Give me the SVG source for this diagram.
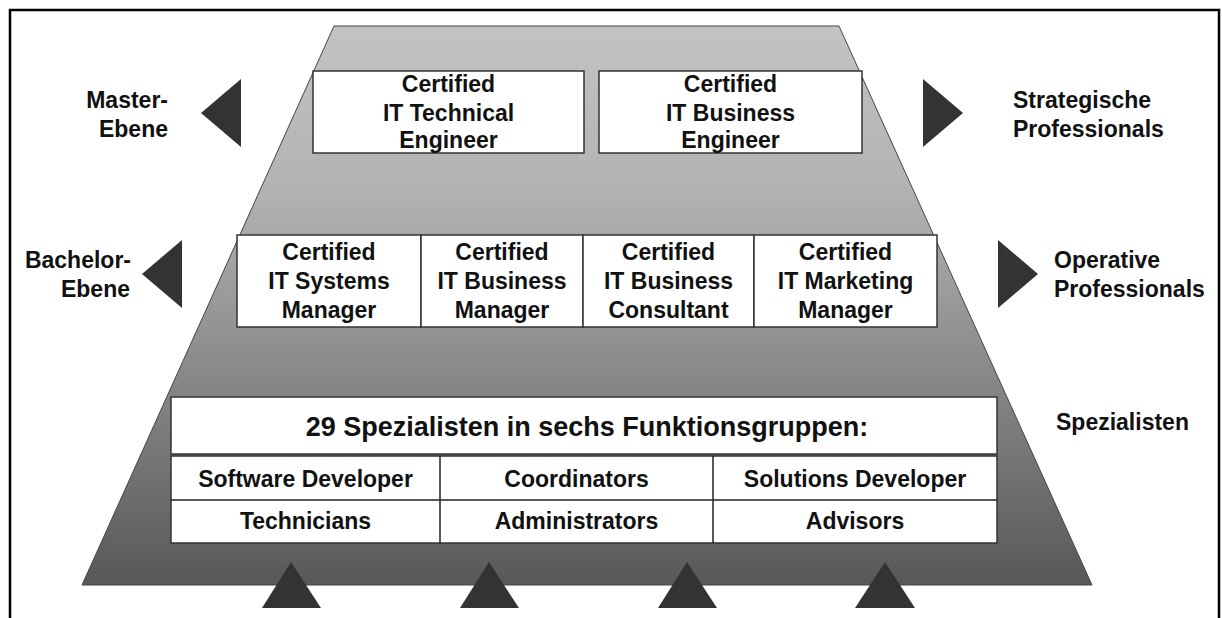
<svg xmlns="http://www.w3.org/2000/svg" width="1222" height="618" viewBox="0 0 1222 618">
  <defs>
    <linearGradient id="pyr" x1="0" y1="0" x2="0" y2="1">
      <stop offset="0" stop-color="#c3c3c3"/>
      <stop offset="0.3" stop-color="#b2b2b2"/>
      <stop offset="1" stop-color="#585858"/>
    </linearGradient>
    <style>
      .box { fill: #ffffff; stroke: #333333; stroke-width: 1.5; }
      .t { font-family: "Liberation Sans", Arial, sans-serif; font-weight: bold; font-size: 23px; fill: #111111; }
      .c { text-anchor: middle; }
      .r { text-anchor: end; }
      .title { font-size: 27px; }
      .tri { fill: #333333; }
      .sep { stroke: #222222; stroke-width: 1.5; }
    </style>
  </defs>
  <rect width="1222" height="618" fill="#ffffff"/>
  <rect x="10" y="10" width="1209" height="640" fill="none" stroke="#000000" stroke-width="2.5"/>

  <g id="pyramid">
    <polygon points="334,26 839,26 1092,585 82,585" fill="url(#pyr)" stroke="#444444" stroke-width="1"/>
  </g>

  <g id="master-label">
    <text class="t r" x="168" y="108">Master-</text>
    <text class="t r" x="168" y="137">Ebene</text>
  </g>
  <g id="strategic-label">
    <text class="t" x="1013" y="108">Strategische</text>
    <text class="t" x="1013" y="137">Professionals</text>
  </g>
  <g id="bachelor-label">
    <text class="t r" x="131" y="268">Bachelor-</text>
    <text class="t r" x="130" y="297">Ebene</text>
  </g>
  <g id="operative-label">
    <text class="t" x="1054" y="268">Operative</text>
    <text class="t" x="1054" y="297">Professionals</text>
  </g>
  <g id="specialists-label">
    <text class="t" x="1056" y="430">Spezialisten</text>
  </g>

  <g id="it-technical-engineer">
    <rect class="box" x="313" y="71" width="271" height="82"/>
    <text class="t c" x="448.5" y="92">Certified</text>
    <text class="t c" x="448.5" y="121">IT Technical</text>
    <text class="t c" x="448.5" y="148">Engineer</text>
  </g>
  <g id="it-business-engineer">
    <rect class="box" x="599" y="71" width="263" height="82"/>
    <text class="t c" x="730.5" y="92">Certified</text>
    <text class="t c" x="730.5" y="121">IT Business</text>
    <text class="t c" x="730.5" y="148">Engineer</text>
  </g>

  <g id="it-systems-manager">
    <rect class="box" x="237" y="235" width="184" height="92"/>
    <text class="t c" x="329" y="260">Certified</text>
    <text class="t c" x="329" y="289">IT Systems</text>
    <text class="t c" x="329" y="318">Manager</text>
  </g>
  <g id="it-business-manager">
    <rect class="box" x="421" y="235" width="162" height="92"/>
    <text class="t c" x="502" y="260">Certified</text>
    <text class="t c" x="502" y="289">IT Business</text>
    <text class="t c" x="502" y="318">Manager</text>
  </g>
  <g id="it-business-consultant">
    <rect class="box" x="583" y="235" width="171" height="92"/>
    <text class="t c" x="668.5" y="260">Certified</text>
    <text class="t c" x="668.5" y="289">IT Business</text>
    <text class="t c" x="668.5" y="318">Consultant</text>
  </g>
  <g id="it-marketing-manager">
    <rect class="box" x="754" y="235" width="183" height="92"/>
    <text class="t c" x="845.5" y="260">Certified</text>
    <text class="t c" x="845.5" y="289">IT Marketing</text>
    <text class="t c" x="845.5" y="318">Manager</text>
  </g>

  <g id="specialists-header">
    <rect class="box" x="171" y="397" width="826" height="57"/>
    <text class="t c title" x="587" y="436">29 Spezialisten in sechs Funktionsgruppen:</text>
  </g>
  <g id="specialists-table">
    <rect class="box" x="171" y="456" width="826" height="87"/>
    <line class="sep" x1="171" y1="500" x2="997" y2="500"/>
    <line class="sep" x1="440" y1="456" x2="440" y2="543"/>
    <line class="sep" x1="713" y1="456" x2="713" y2="543"/>
  </g>
  <g id="software-developer"><text class="t c" x="305.5" y="487">Software Developer</text></g>
  <g id="coordinators"><text class="t c" x="576.5" y="487">Coordinators</text></g>
  <g id="solutions-developer"><text class="t c" x="855" y="487">Solutions Developer</text></g>
  <g id="technicians"><text class="t c" x="305.5" y="529">Technicians</text></g>
  <g id="administrators"><text class="t c" x="576.5" y="529">Administrators</text></g>
  <g id="advisors"><text class="t c" x="855" y="529">Advisors</text></g>

  <g id="connectors">
    <polygon class="tri" points="201,113 241,79 241,147"/>
    <polygon class="tri" points="923,79 923,147 963,113"/>
    <polygon class="tri" points="142,274 182,240 182,308"/>
    <polygon class="tri" points="998,240 998,308 1038,274"/>
    <polygon class="tri" points="262,608 291,562 321,608"/>
    <polygon class="tri" points="460,608 489,562 519,608"/>
    <polygon class="tri" points="658,608 687,562 717,608"/>
    <polygon class="tri" points="855,608 885,562 915,608"/>
  </g>
</svg>
